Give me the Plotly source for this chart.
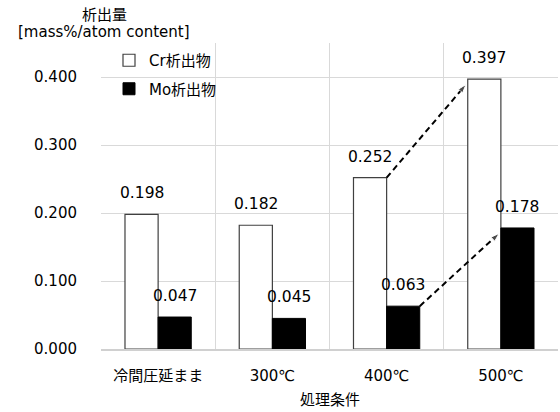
import plotly.graph_objects as go

# Precipitate amounts by processing condition
categories = ["冷間圧延まま", "300℃", "400℃", "500℃"]
cr_values = [0.198, 0.182, 0.252, 0.397]
mo_values = [0.047, 0.045, 0.063, 0.178]
y_ticks = [0.0, 0.1, 0.2, 0.3, 0.4]

FONT = "DejaVu Sans, Verdana, Noto Sans CJK JP, sans-serif"
BARGAP = 0.42
BAR_W = (1 - BARGAP) / 2
xpos = list(range(len(categories)))

fig = go.Figure()
fig.add_trace(go.Bar(
    x=xpos, y=cr_values, name="Cr析出物",
    marker=dict(color="white", line=dict(color="#404040", width=1.2)),
    legendgroup="cr",
))
fig.add_trace(go.Bar(
    x=xpos, y=mo_values, name="Mo析出物",
    marker=dict(color="black", line=dict(color="black", width=1)),
    legendgroup="mo",
))

# value labels above each bar
for vals, off in ((cr_values, -BAR_W / 2), (mo_values, BAR_W / 2)):
    for i, v in enumerate(vals):
        fig.add_annotation(
            x=i + off, y=v, text=f"{v:.3f}", showarrow=False,
            yanchor="middle", yshift=21,
            font=dict(family=FONT, size=15.5, color="black"),
        )

# dashed arrows: 400℃ -> 500℃ for each precipitate
def dashed_arrow(vals, start_x, end_x):
    fig.add_trace(go.Scatter(
        x=[start_x, end_x - 0.015], y=[vals[2], vals[3] - 0.008],
        mode="lines+markers",
        line=dict(color="black", width=2, dash="6px,4px"),
        marker=dict(symbol=["circle", "arrow"], size=[0, 9],
                    angleref="previous", color="black"),
        showlegend=False, hoverinfo="skip",
    ))

dashed_arrow(cr_values, 2, 3 - BAR_W)
dashed_arrow(mo_values, 2 + BAR_W, 3)

# titles placed in pixel terms (from the top-left corner of the page)
L, R, T, B = 101, 2, 43, 63
W, H = 560, 412
pw, ph = W - L - R, H - T - B


def px_note(text, x, y):
    fig.add_annotation(
        x=(x - L) / pw, y=(H - y - B) / ph, xref="paper", yref="paper",
        xanchor="center", yanchor="middle", text=text, showarrow=False,
        font=dict(family=FONT, size=15, color="black"),
    )


px_note("析出量", 104, 15)
px_note("[mass%/atom content]", 104, 32)
px_note("処理条件", 329.5, 400)

fig.update_layout(
    width=W, height=H,
    margin=dict(l=L, r=R, t=T, b=B),
    paper_bgcolor="white", plot_bgcolor="white",
    barmode="group", bargap=BARGAP, bargroupgap=0,
    font=dict(family=FONT, size=15, color="black"),
    legend=dict(
        x=(109 - L) / pw, y=(H - 44 - B) / ph, xanchor="left", yanchor="top",
        bgcolor="rgba(0,0,0,0)", font=dict(family=FONT, size=15),
        traceorder="grouped", tracegroupgap=6, itemwidth=30,
    ),
    showlegend=True,
)
fig.update_xaxes(
    range=[-0.5, 3.5], tickvals=xpos, ticktext=categories,
    showgrid=False, zeroline=False,
    showline=True, linecolor="#d0d0d0", linewidth=1.5, mirror=False,
    ticks="outside", ticklen=12, tickcolor="rgba(0,0,0,0)",
    tickfont=dict(family=FONT, size=15),
    minor=dict(tickvals=[-0.5, 0.5, 1.5, 2.5, 3.5], showgrid=True,
               gridcolor="#d9d9d9", gridwidth=1, ticks=""),
)
fig.update_yaxes(
    range=[0, 0.45], tickvals=y_ticks, tickformat=".3f",
    showgrid=True, gridcolor="#d9d9d9", gridwidth=1,
    zeroline=False, showline=False,
    ticks="outside", ticklen=20, tickcolor="rgba(0,0,0,0)",
    tickfont=dict(family=FONT, size=15),
)

fig.write_html("out.html")
